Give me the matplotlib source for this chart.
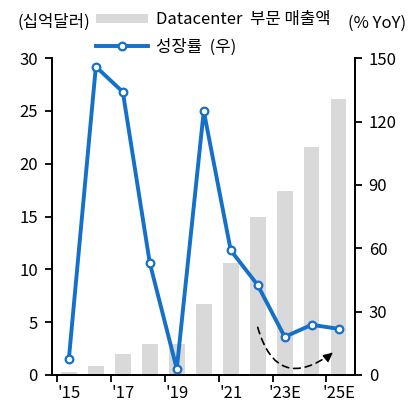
import numpy as np
import matplotlib
matplotlib.use('Agg')
import matplotlib.pyplot as plt

plt.rcParams['font.family'] = ['Noto Sans CJK KR', 'DejaVu Sans']
plt.rcParams['font.size'] = 12

years = ['2015', '2016', '2017', '2018', '2019', '2020', '2021', '2022', '2023E', '2024E', '2025E']
revenue = [0.3, 0.85, 2.0, 2.9, 2.95, 6.7, 10.6, 15.0, 17.4, 21.6, 26.1]   # 십억달러
growth = [7.6, 146, 134, 53, 2.8, 125, 59, 42.5, 18, 23.7, 21.8]           # % YoY
tick_labels = ["'15", "'17", "'19", "'21", "'23E", "'25E"]

# dashed trend arrow (data coords of left axis)
arrow_start = (7.0, 4.5)
arrow_end = (9.78, 2.1)

blue = '#1470C8'
gray = '#D9D9D9'

x = np.arange(len(years))

fig = plt.figure(figsize=(4.15, 4.07), dpi=100)
ax = fig.add_axes([0.125, 0.079, 0.73, 0.778])
ax2 = ax.twinx()

bars = ax.bar(x, revenue, width=0.58, color=gray, zorder=1)
line, = ax2.plot(x, growth, color=blue, lw=2.8, marker='o', markersize=5.5,
                 markerfacecolor='white', markeredgecolor=blue, markeredgewidth=1.6, zorder=3)

ax.set_xlim(-0.63, 10.6)
ax.set_ylim(0, 30)
ax2.set_ylim(0, 150)
ax.set_yticks(np.arange(0, 31, 5))
ax2.set_yticks(np.arange(0, 151, 30))
# tick marks sit between categories, labels sit under the bars
ax.set_xticks(np.arange(0, 11, 2) - 0.45)
ax.set_xticklabels([])
ax.set_xticks(np.arange(0, 11, 2), minor=True)
ax.set_xticklabels(tick_labels, minor=True)
ax.tick_params(axis='x', which='minor', length=0, pad=7)

for a in (ax, ax2):
    a.spines['top'].set_visible(False)
    a.tick_params(which='major', direction='out', length=5, width=1.3, labelsize=12, color='black')
    for s in a.spines.values():
        s.set_linewidth(1.3)
ax.tick_params(axis='y', pad=5)
ax2.tick_params(axis='y', pad=5)
ax.tick_params(axis='x', which='minor', labelsize=12)

ax.annotate('', xy=arrow_end, xytext=arrow_start,
            arrowprops=dict(arrowstyle='-', color='black', lw=1.2, linestyle=(0, (4, 3)),
                            connectionstyle='arc3,rad=0.72', shrinkA=0, shrinkB=0),
            zorder=4)
ax.annotate('', xy=arrow_end, xytext=(arrow_end[0] - 0.17, arrow_end[1] - 0.36),
            arrowprops=dict(arrowstyle='-|>', color='black', lw=1.2,
                            mutation_scale=13, shrinkA=0, shrinkB=0),
            zorder=4)

fig.text(0.043, 0.946, '(십억달러)', fontsize=12, va='center', ha='left')
fig.text(0.978, 0.943, '(% YoY)', fontsize=12, va='center', ha='right')

fig.legend([bars, line], ['Datacenter  부문 매출액', '성장률  (우)'],
           loc='upper left', bbox_to_anchor=(0.21, 0.995), frameon=False,
           handlelength=3.1, handleheight=0.5, handletextpad=0.5, labelspacing=0.6,
           fontsize=12, borderaxespad=0.15)

fig.savefig('out.png', dpi=100)
